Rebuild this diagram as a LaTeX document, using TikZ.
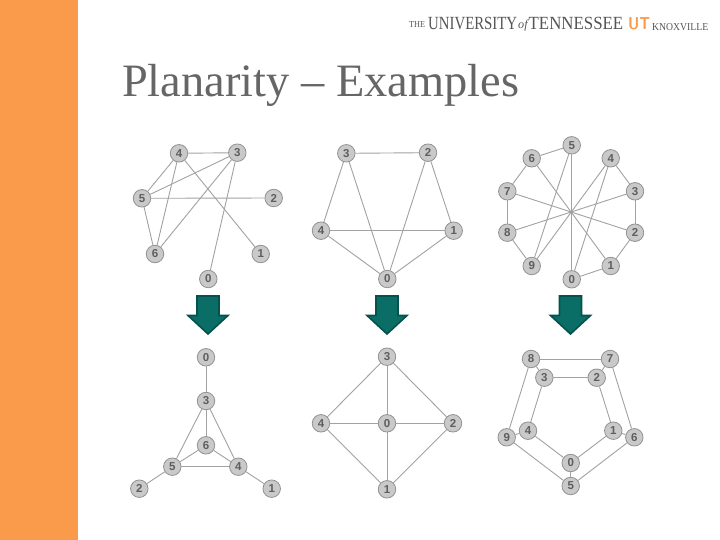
\documentclass[tikz,border=0pt]{standalone}
\usepackage{fontspec}
\usepackage{graphicx}
\setmainfont{Liberation Sans}
\newfontfamily\titlefont{Liberation Serif}
\definecolor{sidebar}{HTML}{F99B4B}
\definecolor{titlegray}{HTML}{666666}
\definecolor{edgegray}{HTML}{A2A2A2}
\definecolor{nodefill}{HTML}{C9C9C9}
\definecolor{nodeline}{HTML}{929292}
\definecolor{nodetext}{HTML}{5E5E5E}
\definecolor{arrowfill}{HTML}{0B6E66}
\definecolor{arrowline}{HTML}{05524D}
\definecolor{logogray}{HTML}{555555}
\tikzset{
  vtx/.style={circle,draw=nodeline,fill=nodefill,line width=.8pt,minimum size=17.5pt,inner sep=0pt,text=nodetext,font=\fontsize{11.5}{11.5}\selectfont\bfseries},
  edg/.style={draw=edgegray,line width=.9pt},
  downarrow/.style={fill=arrowfill,draw=arrowline,line width=1.6pt,line join=miter},
  logo/.style={text=logogray,inner sep=0pt,anchor=base west,font=\titlefont}
}
\begin{document}
\begin{tikzpicture}[x=1pt,y=-1pt]
\useasboundingbox (0,0) rectangle (720,540);
\fill[white] (0,0) rectangle (720,540);
\fill[sidebar] (0,0) rectangle (78,540);
% title
\node[anchor=base west,inner sep=0pt,text=titlegray,font=\titlefont\fontsize{46.4}{47}\selectfont] (title) at (122,97) {Planarity – Examples};
% logo
\node[logo] (lthe) at (409,28) {\resizebox{16pt}{6pt}{THE}};
\node[logo] (luni) at (428,30) {\resizebox{89pt}{12.3pt}{UNIVERSITY}};
\node[logo] (lof) at (518,29) {\resizebox{9.5pt}{!}{\itshape of}};
\node[logo] (lten) at (528.5,30) {\resizebox{94.5pt}{12.3pt}{TENNESSEE}};
\node[logo,text=sidebar] (lut) at (628,30) {\resizebox{22pt}{12pt}{\sffamily\bfseries UT}};
\node[logo] (lkno) at (652,31) {\resizebox{56pt}{7pt}{KNOXVILLE}};
% graph 1
\foreach \n/\x/\y in {4/179/153.3,3/237.3/152.7,5/142/198.3,2/273.7/198,6/155/254,1/260.7/254,0/208.3/279}
  \node[vtx] (a\n) at (\x,\y) {\n};
\foreach \u/\v in {4/3,4/5,4/6,4/1,3/5,3/6,3/0,5/2,5/6}
  \draw[edg] (a\u) -- (a\v);
% graph 2
\foreach \n/\x/\y in {3/346.3/153.3,2/428/152.7,4/321/230.7,1/453.7/230.7,0/387.3/279}
  \node[vtx] (b\n) at (\x,\y) {\n};
\foreach \u/\v in {3/2,3/4,3/0,2/0,2/1,4/1,4/0,1/0}
  \draw[edg] (b\u) -- (b\v);
% graph 3
\foreach \n/\x/\y in {5/571.7/145.3,6/531.7/158.3,4/610.7/158.3,7/507.3/191.3,3/635/191.3,8/507.3/232.7,2/635/232.7,9/531.7/266,1/610.7/266,0/571.7/279.3}
  \node[vtx] (c\n) at (\x,\y) {\n};
\foreach \u/\v in {5/6,5/0,5/9,6/7,6/1,4/3,4/9,4/0,7/8,7/2,3/2,3/8,8/9,2/1,1/0}
  \draw[edg] (c\u) -- (c\v);
% graph 4
\foreach \n/\x/\y in {0/206/357.3,3/206/401,6/206/445.3,5/172.3/466.7,4/238.3/466.7,2/139.3/488.7,1/271.7/488.7}
  \node[vtx] (d\n) at (\x,\y) {\n};
\foreach \u/\v in {0/3,3/6,3/5,3/4,6/5,6/4,5/4,5/2,4/1}
  \draw[edg] (d\u) -- (d\v);
% graph 5
\foreach \n/\x/\y in {3/387/356.7,0/387/423.3,4/321/423.3,2/453/423.3,1/387/489.3}
  \node[vtx] (e\n) at (\x,\y) {\n};
\foreach \u/\v in {3/4,3/0,3/2,4/0,0/2,4/1,0/1,2/1}
  \draw[edg] (e\u) -- (e\v);
% graph 6
\foreach \n/\x/\y in {8/531/359,7/610/359,3/544.3/377.7,2/596.7/377.7,4/528/430.7,1/613.3/430.7,9/506.7/437.3,6/634.3/437.3,0/570.7/463,5/570.7/486}
  \node[vtx] (f\n) at (\x,\y) {\n};
\foreach \u/\v in {8/7,8/3,8/9,7/2,7/6,3/2,3/4,2/1,4/9,4/0,1/6,1/0,9/5,6/5,0/5}
  \draw[edg] (f\u) -- (f\v);
% arrows
\foreach \c in {208,387,570.5}
  \draw[downarrow,shift={(\c,0)}] (-11,296) -- (11,296) -- (11,315.5) -- (20,315.5) -- (0,334) -- (-20,315.5) -- (-11,315.5) -- cycle;
\end{tikzpicture}
\end{document}
